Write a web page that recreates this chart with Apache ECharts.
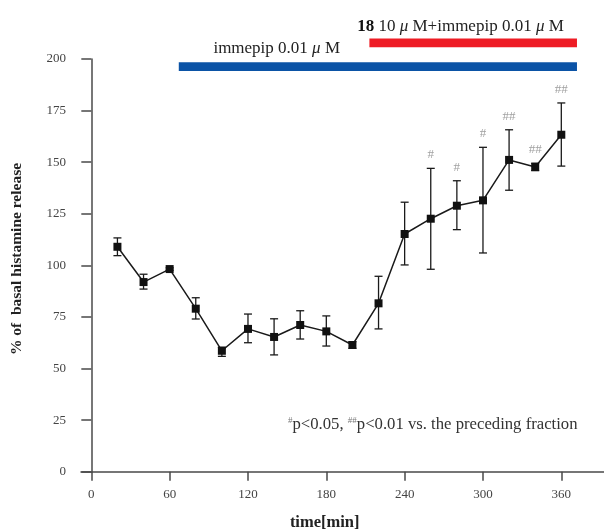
<!DOCTYPE html>
<html>
<head>
<meta charset="utf-8">
<script src="https://cdn.jsdelivr.net/npm/echarts@6/dist/echarts.min.js"></script>
<style>
  html, body { margin: 0; padding: 0; background: #fff; }
  #chart { width: 604px; height: 530px; }
</style>
</head>
<body>
<div id="chart"></div>
<script>
// sampling times (min) and mean release (% of basal) with SEM limits
const times = [20, 40, 60, 80, 100, 120, 140, 160, 180, 200, 220, 240, 260, 280, 300, 320, 340, 360];
const release = [109.0, 91.9, 98.2, 79.0, 58.6, 69.2, 65.3, 71.1, 68.0, 61.4, 81.6, 115.2, 122.6, 128.9, 131.5, 151.1, 147.7, 163.3];
const errLow = [104.7, 88.5, 97.6, 74.0, 55.9, 62.5, 56.6, 64.3, 60.9, 59.8, 69.2, 100.2, 98.1, 117.3, 106.0, 136.4, 145.9, 148.1];
const errHigh = [113.3, 95.7, 98.8, 84.3, 60.3, 76.4, 74.1, 78.0, 75.5, 63.0, 94.7, 130.6, 147.0, 141.0, 157.2, 165.7, 149.5, 178.7];
const sigMarks = ['', '', '', '', '', '', '', '', '', '', '', '', '#', '#', '#', '##', '##', '##'];

// treatment periods drawn as bars above the curve
const treatStart = [67, 213];
const treatEnd = [372, 372];
const treatLevel = [196.3, 207.8];

const xTicks = [0, 60, 120, 180, 240, 300, 360];

const FONT = '"Liberation Serif", "Times New Roman", serif';

const chart = echarts.init(document.getElementById('chart'));

const errData = times.map((t, i) => [t, errLow[i], errHigh[i]]);
const sigData = times.map((t, i) => [t, errHigh[i], sigMarks[i]]).filter(d => d[2]);
const barData = treatStart.map((s, i) => [s, treatEnd[i], treatLevel[i], i]);
const barColors = ['#0b53a6', '#ee1c25'];

const muStyle = { fontFamily: FONT, fontSize: 17, fontStyle: 'italic', fill: '#222' };

const option = {
  animation: false,
  grid: { left: 81, right: 0, top: 59, bottom: 58.3 },
  xAxis: {
    type: 'value',
    min: -7.9,
    max: 392.7,
    splitLine: { show: false },
    axisLine: { lineStyle: { color: '#4a4a4a', width: 1.5 } },
    axisTick: { length: 9, customValues: xTicks, lineStyle: { color: '#4a4a4a', width: 1.5 } },
    axisLabel: {
      customValues: xTicks,
      margin: 16,
      fontFamily: FONT,
      fontSize: 13,
      color: '#444'
    }
  },
  yAxis: {
    type: 'value',
    min: 0,
    max: 200,
    interval: 25,
    splitLine: { show: false },
    axisLine: { onZero: true, lineStyle: { color: '#4a4a4a', width: 1.5 } },
    axisTick: { length: 10, lineStyle: { color: '#4a4a4a', width: 1.5 } },
    axisLabel: { margin: 15, fontFamily: FONT, fontSize: 13, color: '#444' }
  },
  series: [
    {
      type: 'custom',
      name: 'sem',
      z: 2,
      renderItem: function (params, api) {
        const x = api.value(0);
        const lo = api.coord([x, api.value(1)]);
        const hi = api.coord([x, api.value(2)]);
        const cap = 4;
        const style = { stroke: '#1a1a1a', lineWidth: 1.3 };
        return {
          type: 'group',
          children: [
            { type: 'line', shape: { x1: lo[0], y1: lo[1], x2: hi[0], y2: hi[1] }, style },
            { type: 'line', shape: { x1: lo[0] - cap, y1: lo[1], x2: lo[0] + cap, y2: lo[1] }, style },
            { type: 'line', shape: { x1: hi[0] - cap, y1: hi[1], x2: hi[0] + cap, y2: hi[1] }, style }
          ]
        };
      },
      data: errData
    },
    {
      type: 'line',
      name: 'release',
      z: 3,
      data: times.map((t, i) => [t, release[i]]),
      symbol: 'rect',
      symbolSize: 8,
      lineStyle: { color: '#1a1a1a', width: 1.5 },
      itemStyle: { color: '#111' }
    },
    {
      type: 'scatter',
      name: 'sig',
      z: 4,
      symbolSize: 0,
      data: sigData,
      label: {
        show: true,
        position: 'top',
        distance: 7,
        formatter: p => p.data[2],
        fontFamily: FONT,
        fontSize: 13,
        color: '#888'
      }
    },
    {
      type: 'custom',
      name: 'treatment',
      clip: false,
      z: 2,
      renderItem: function (params, api) {
        const a = api.coord([api.value(0), api.value(2)]);
        const b = api.coord([api.value(1), api.value(2)]);
        const h = 8.7;
        return {
          type: 'rect',
          shape: { x: a[0], y: a[1] - h / 2, width: b[0] - a[0], height: h },
          style: { fill: barColors[api.value(3)] }
        };
      },
      data: barData
    }
  ],
  graphic: [
    {
      type: 'text',
      x: 276.7, y: 48.3,
      style: {
        text: 'immepip 0.01 {mu|μ} M',
        font: '17px ' + FONT,
        fill: '#222',
        align: 'center',
        verticalAlign: 'middle',
        rich: { mu: muStyle }
      }
    },
    {
      type: 'text',
      x: 460.5, y: 26.3,
      style: {
        text: '{b|18} 10 {mu|μ} M+immepip 0.01 {mu|μ} M',
        font: '17px ' + FONT,
        fill: '#222',
        align: 'center',
        verticalAlign: 'middle',
        rich: {
          b: { fontFamily: FONT, fontSize: 17, fontWeight: 'bold', fill: '#111' },
          mu: muStyle
        }
      }
    },
    {
      type: 'text',
      x: 288, y: 425,
      style: {
        text: '{s|#}p<0.05, {s|##}p<0.01 vs. the preceding fraction',
        font: '16.7px ' + FONT,
        fill: '#333',
        align: 'left',
        verticalAlign: 'middle',
        rich: {
          s: { fontFamily: FONT, fontSize: 9, fill: '#777', verticalAlign: 'top', padding: [0, 0, 8, 0] }
        }
      }
    },
    {
      type: 'text',
      x: 324.7, y: 522.7,
      style: {
        text: 'time[min]',
        font: 'bold 16.5px ' + FONT,
        fill: '#222',
        align: 'center',
        verticalAlign: 'middle'
      }
    },
    {
      type: 'text',
      x: 17, y: 259,
      rotation: Math.PI / 2,
      style: {
        text: '% of  basal histamine release',
        font: 'bold 15.5px ' + FONT,
        fill: '#222',
        align: 'center',
        verticalAlign: 'middle'
      }
    }
  ]
};

chart.setOption(option);
</script>
</body>
</html>
